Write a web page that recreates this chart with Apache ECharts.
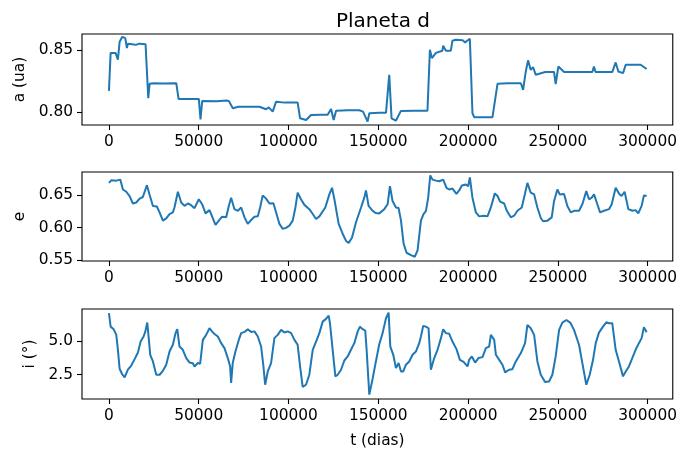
<!DOCTYPE html>
<html><head><meta charset="utf-8">
<script src="https://cdn.jsdelivr.net/npm/echarts@6/dist/echarts.min.js"></script>
<style>html,body{margin:0;padding:0;background:#fff}#c{width:680px;height:456px}</style>
</head><body><div id="c"></div>
<script>
const titleText = "Planeta d";
const xName = "t (dias)";
const yNames = ["a (ua)", "e", "i (°)"];
const xTicks = [0, 50000, 100000, 150000, 200000, 250000, 300000];
const aTicks = [0.80, 0.85];
const eTicks = [0.55, 0.60, 0.65];
const iTicks = [2.5, 5.0];

const aData = [
 [0,0.8173],[950,0.848],[3700,0.848],[5000,0.8425],[5950,0.857],[7450,0.861],[9100,0.860],[10000,0.852],[10570,0.8555],
 [13000,0.8550],[15000,0.8545],[17000,0.8555],[20400,0.855],[21900,0.8114],[22640,0.823],[25000,0.8235],[30000,0.8232],[37500,0.8235],
 [38770,0.8108],[45000,0.8108],[50060,0.8108],[51000,0.7943],[51950,0.8092],[60000,0.8090],[65500,0.8095],[66750,0.8092],
 [68980,0.8032],[72000,0.8045],[78000,0.8045],[83800,0.8045],[87500,0.8024],[89000,0.8040],[91200,0.8005],[93100,0.8086],
 [98000,0.8078],[105100,0.8078],[106450,0.7951],[109800,0.7937],[112600,0.7978],[118000,0.7980],[121800,0.798],
 [123700,0.8027],[125150,0.7937],[126500,0.8013],[133000,0.8016],[139450,0.8016],[141500,0.8005],[144050,0.7924],[145000,0.7992],
 [150550,0.7997],[154300,0.7997],[156100,0.8303],[157400,0.7951],[159800,0.7932],[162600,0.8011],[170000,0.8013],[177400,0.8013],
 [178750,0.8506],[179870,0.8438],[182100,0.848],[185700,0.8498],[186150,0.8538],[187650,0.8498],[190400,0.8498],[191300,0.8579],
 [193200,0.8587],[197000,0.8582],[198400,0.8565],[199700,0.858],[201000,0.8595],[202450,0.7992],[203400,0.796],[209000,0.796],[213600,0.796],
 [216400,0.823],[222000,0.8235],[229400,0.8235],[230650,0.8181],[232150,0.833],[233400,0.842],[234900,0.8343],[236200,0.8365],[237700,0.8303],
 [243000,0.8325],[247900,0.8325],[248800,0.8227],[250300,0.837],[253500,0.8325],[260000,0.8325],[269200,0.8325],[270100,0.837],[271000,0.8325],
 [280300,0.8325],[282200,0.8403],[283700,0.833],[286300,0.8317],[287800,0.8384],[292000,0.8384],[296100,0.8384],[299450,0.835]
];

const eData = [
 [0,0.6688],[1300,0.6727],[4100,0.6722],[6300,0.6738],[7800,0.6586],[9650,0.6551],[11500,0.6485],[13350,0.637],[15200,0.6385],
 [17100,0.6445],[18900,0.647],[21150,0.6652],[22600,0.651],[24500,0.6333],[26700,0.6324],[28200,0.6233],[30050,0.6106],[31900,0.6142],
 [33750,0.6208],[35600,0.6233],[36500,0.6309],[38400,0.6551],[40250,0.6385],[42100,0.6333],[44000,0.637],[45450,0.635],[47650,0.6298],
 [50060,0.6435],[51900,0.6359],[53800,0.6218],[56000,0.6268],[57500,0.6167],[59350,0.6041],[61200,0.6106],[63050,0.6167],[65300,0.6157],
 [66750,0.6333],[68050,0.646],[69900,0.6283],[71800,0.6258],[73650,0.6309],[75500,0.6157],[77300,0.6056],[79200,0.6116],[81050,0.6167],
 [82900,0.6172],[84200,0.6309],[85650,0.6495],[87500,0.6445],[89400,0.637],[91600,0.6375],[93100,0.6233],[94950,0.6056],[96800,0.598],
 [98650,0.5995],[100500,0.603],[102350,0.6106],[103850,0.6309],[105100,0.6536],[106950,0.6435],[108850,0.6349],[111600,0.6283],
 [113500,0.6208],[115350,0.6132],[117200,0.6172],[120500,0.6309],[122750,0.651],[124250,0.6612],[125550,0.6435],[127950,0.6056],
 [130150,0.5905],[132050,0.5794],[133500,0.5764],[135350,0.5844],[137600,0.6082],[140400,0.6309],[142200,0.646],[143150,0.6571],
 [144600,0.6333],[146850,0.6258],[148500,0.6223],[150550,0.6218],[153350,0.6283],[155200,0.6359],[156500,0.6636],[157950,0.6409],
 [159850,0.6309],[161300,0.63],[162650,0.6106],[164100,0.5753],[165750,0.5612],[168200,0.5576],[170400,0.5551],[171900,0.5652],
 [173750,0.6106],[175200,0.6208],[176550,0.6258],[177800,0.646],[178950,0.6803],[180200,0.6738],[182100,0.6722],[183950,0.6712],
 [186150,0.6738],[188000,0.6612],[189500,0.6586],[191300,0.66],[193550,0.652],[195050,0.6571],[196550,0.6647],[198800,0.6662],
 [200050,0.6636],[201000,0.6773],[202450,0.646],[204350,0.6233],[206200,0.6172],[208950,0.6182],[210800,0.6172],[212700,0.6309],
 [214900,0.6526],[216400,0.6485],[217850,0.64],[220100,0.637],[221600,0.6258],[223800,0.6157],[225650,0.6182],[227500,0.6258],
 [229900,0.6309],[231600,0.651],[233050,0.6688],[234900,0.6536],[236800,0.651],[238600,0.6309],[240500,0.6147],[241800,0.6097],
 [244200,0.6106],[246600,0.6157],[247900,0.6409],[249750,0.6586],[251050,0.651],[253450,0.6516],[255300,0.6333],[257200,0.6233],
 [259050,0.6258],[261800,0.6258],[263650,0.6359],[265850,0.656],[267350,0.6435],[268900,0.646],[270150,0.651],[272000,0.6359],
 [273500,0.6233],[275700,0.6258],[278500,0.6283],[280000,0.6359],[282200,0.6612],[284100,0.652],[285500,0.6485],[287200,0.6551],
 [289250,0.6283],[291500,0.6258],[293300,0.6268],[294800,0.6218],[296650,0.6333],[297950,0.6495],[299450,0.6485]
];

const iData = [
 [0,7.04],[950,6.05],[2600,5.86],[4100,5.44],[5000,4.34],[5950,2.94],[7250,2.57],[8750,2.30],[10550,2.87],[12450,3.18],[14300,3.65],
 [16150,4.14],[17650,4.95],[19300,5.32],[20250,5.68],[21350,6.35],[22250,5.07],[23000,3.97],[24500,3.48],[26350,2.50],[28200,2.50],
 [30050,2.79],[31900,3.24],[33750,4.21],[35600,4.71],[37100,5.57],[38050,5.86],[39300,4.58],[41150,4.34],[43050,3.73],[44900,3.40],
 [46750,3.35],[47650,3.11],[49550,3.36],[50800,3.31],[52300,5.07],[54150,5.44],[56000,5.93],[57500,5.68],[58800,5.51],[60650,5.32],
 [62500,4.83],[64350,4.46],[66200,3.73],[67500,3.11],[68050,1.89],[68950,3.36],[70450,4.21],[72300,5.07],[73650,5.57],[75500,5.66],
 [77300,5.86],[79200,5.66],[81050,5.70],[82900,5.32],[84750,4.58],[86050,3.11],[87000,1.76],[88450,2.74],[90300,3.36],[92150,5.20],
 [94000,5.44],[95900,5.81],[97750,5.62],[99600,5.70],[101450,5.57],[103300,5.07],[105100,4.71],[106450,3.11],[107900,1.60],[109750,1.76],
 [111600,2.50],[113500,4.34],[115350,4.95],[117200,5.57],[119050,6.42],[120900,6.62],[122400,6.86],[123100,6.30],[124600,4.34],
 [126100,2.38],[127400,2.50],[129250,2.87],[131100,3.55],[132950,3.85],[134800,4.34],[136650,4.83],[138500,5.68],[139800,6.05],
 [141300,5.86],[142750,5.76],[143500,4.34],[145000,1.03],[146850,2.2],[148700,3.5],[150550,4.75],[152400,5.57],[154300,6.67],
 [155750,7.08],[156700,4.58],[158350,3.97],[159850,2.99],[161300,3.36],[162650,2.74],[163900,2.74],[165400,3.24],[167250,3.48],
 [169100,3.97],[170950,4.21],[172800,4.83],[173750,5.32],[175000,6.10],[176500,6.05],[178000,5.93],[178700,6.0],[179300,2.87],
 [181150,3.73],[183000,4.34],[184900,5.20],[186150,5.86],[187650,5.57],[189500,5.52],[191300,4.95],[193550,4.39],[195450,3.60],
 [197500,3.45],[199700,3.11],[200600,3.60],[202100,3.85],[203950,3.40],[205800,3.73],[208050,3.80],[209900,4.46],[211750,4.58],
 [212700,5.44],[214550,5.07],[215500,3.97],[217350,3.60],[219150,3.24],[220650,2.67],[222850,2.87],[224700,2.91],[226600,3.48],
 [229400,4.10],[231750,4.83],[233050,6.18],[234900,5.93],[236800,5.44],[238600,3.48],[240500,2.50],[242900,1.96],[245100,2.0],
 [246950,2.50],[248800,3.85],[250700,5.81],[252500,6.35],[254750,6.54],[256900,6.35],[259000,5.81],[261800,4.71],[263650,3.36],
 [265850,1.76],[267750,2.50],[269600,3.60],[271100,4.83],[272900,5.61],[275150,6.05],[277000,6.37],[278500,6.30],[280300,6.30],
 [282200,4.34],[284050,3.48],[286300,2.38],[287800,2.74],[289600,3.11],[291450,3.73],[293300,4.34],[295150,4.83],[296650,5.20],
 [297950,6.0],[299450,5.64]
];

const FONT = "DejaVu Sans";
const FS = 15.4;
const grids = [
  {left: 82, width: 592, top: 34, height: 91},
  {left: 82, width: 592, top: 172, height: 89},
  {left: 82, width: 592, top: 309, height: 90}
];
const yRanges = [[0.7897, 0.8633], [0.5485, 0.6855], [0.71, 7.35]];
const yTickSets = [aTicks, eTicks, iTicks];
const yDec = [2, 2, 1];
const yNameGaps = [53, 52, 41];
const seriesData = [aData, eData, iData];

const chart = echarts.init(document.getElementById('c'), null, {renderer: 'canvas'});
const option = {
  backgroundColor: '#fff',
  animation: false,
  title: {
    text: titleText, left: 378, top: 7, textAlign: 'center',
    textStyle: {fontFamily: FONT, fontSize: 20, fontWeight: 'normal', color: '#000'}
  },
  grid: grids.map(g => Object.assign({show: true, borderColor: '#000', borderWidth: 1.1, backgroundColor: 'transparent'}, g)),
  xAxis: grids.map((g, k) => ({
    type: 'value', gridIndex: k, min: -15000, max: 314000,
    name: k === 2 ? xName : '', nameLocation: 'middle', nameGap: 34,
    nameTextStyle: {fontFamily: FONT, fontSize: FS, color: '#000'},
    axisLine: {show: false, onZero: false},
    splitLine: {show: false},
    axisTick: {show: true, inside: false, length: 5, lineStyle: {color: '#000', width: 1.1}, customValues: xTicks},
    axisLabel: {show: true, margin: 9, fontFamily: FONT, fontSize: FS, color: '#000', customValues: xTicks,
      formatter: v => String(Math.round(v))}
  })),
  yAxis: grids.map((g, k) => ({
    type: 'value', gridIndex: k, min: yRanges[k][0], max: yRanges[k][1],
    name: yNames[k], nameLocation: 'middle', nameGap: yNameGaps[k], nameRotate: 90,
    nameTextStyle: {fontFamily: FONT, fontSize: FS, color: '#000'},
    axisLine: {show: false, onZero: false},
    splitLine: {show: false},
    axisTick: {show: true, inside: false, length: 5, lineStyle: {color: '#000', width: 1.1}, customValues: yTickSets[k]},
    axisLabel: {show: true, margin: 9, fontFamily: FONT, fontSize: FS, color: '#000', customValues: yTickSets[k],
      formatter: v => v.toFixed(yDec[k])}
  })),
  series: seriesData.map((d, k) => ({
    type: 'line', xAxisIndex: k, yAxisIndex: k, data: d, showSymbol: false, symbol: 'none',
    lineStyle: {color: '#1f77b4', width: 2}, clip: true
  }))
};
chart.setOption(option);
</script>
</body></html>
